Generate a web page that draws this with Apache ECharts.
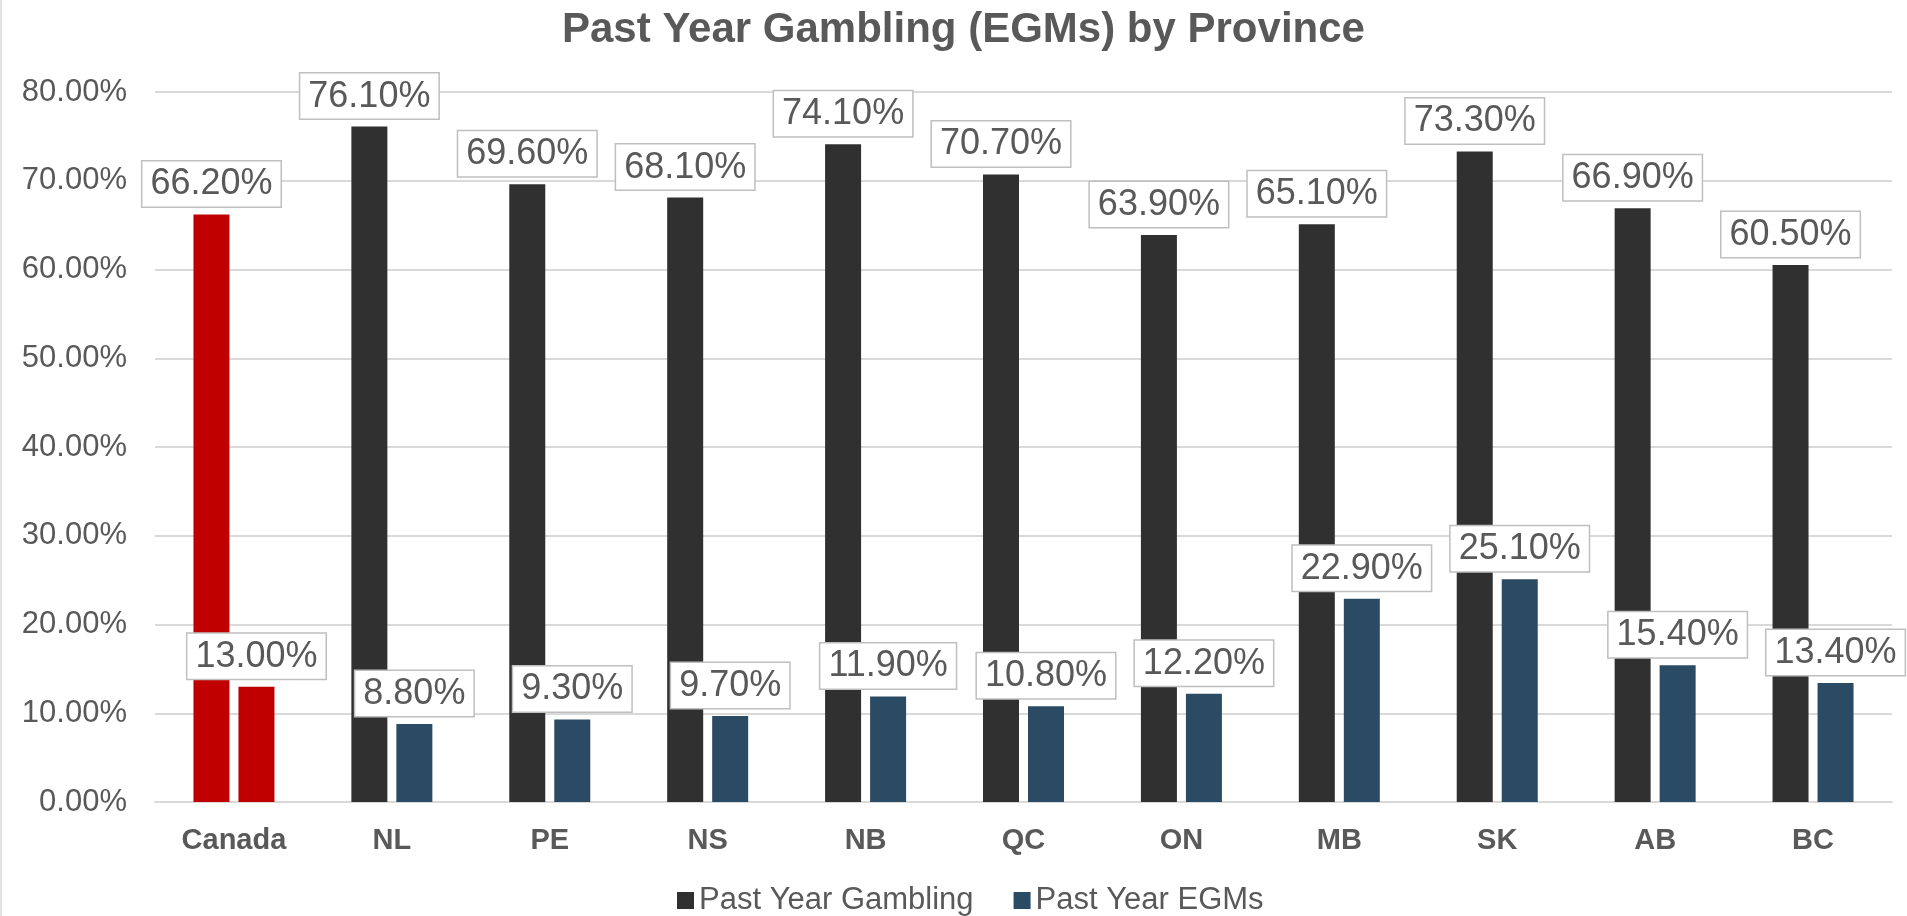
<!DOCTYPE html>
<html>
<head>
<meta charset="UTF-8">
<title>Past Year Gambling (EGMs) by Province</title>
<script src="https://cdn.jsdelivr.net/npm/echarts@6/dist/echarts.min.js"></script>
<style>
  html, body { margin: 0; padding: 0; background: #fff; }
  #chart { width: 1907px; height: 916px; box-sizing: border-box; border-left: 2px solid #e3e3e3; }
</style>
</head>
<body>
<div id="chart"></div>
<script>
// values, in percent
const provinces = ['Canada', 'NL', 'PE', 'NS', 'NB', 'QC', 'ON', 'MB', 'SK', 'AB', 'BC'];
const gambling = [66.2, 76.1, 69.6, 68.1, 74.1, 70.7, 63.9, 65.1, 73.3, 66.9, 60.5];
const egms = [13.0, 8.8, 9.3, 9.7, 11.9, 10.8, 12.2, 22.9, 25.1, 15.4, 13.4];
const seriesNames = ['Past Year Gambling', 'Past Year EGMs'];

const textGray = '#595959';
const canadaRed = '#c00000';
const font = 'Liberation Sans, Arial, sans-serif';

// Canada gets the red highlight in both series
function withHighlight(values) {
  return values.map((v, i) => (provinces[i] === 'Canada' ? { value: v, itemStyle: { color: canadaRed } } : v));
}

const boxLabel = {
  show: true,
  position: 'top',
  distance: 8,
  formatter: (p) => p.value.toFixed(2) + '%',
  fontFamily: font,
  fontSize: 36,
  color: textGray,
  backgroundColor: '#fff',
  borderColor: '#bfbfbf',
  borderWidth: 1.5,
  padding: [5, 8, 4, 8]
};

const chart = echarts.init(document.getElementById('chart'));
chart.setOption({
  animation: false,
  title: {
    text: 'Past Year Gambling (EGMs) by Province',
    left: 555,
    top: 4,
    textStyle: { fontFamily: font, fontSize: 42, fontWeight: 'bold', color: textGray }
  },
  legend: {
    data: seriesNames,
    left: 670,
    top: 880,
    itemWidth: 17,
    itemHeight: 17,
    itemGap: 40,
    icon: 'rect',
    textStyle: { fontFamily: font, fontSize: 31, color: textGray }
  },
  grid: { left: 153, right: 15, top: 92, bottom: 114, containLabel: false },
  xAxis: {
    type: 'category',
    data: provinces,
    axisLine: { lineStyle: { color: '#d9d9d9', width: 2 } },
    axisTick: { show: false },
    axisLabel: {
      margin: 24,
      fontFamily: font,
      fontSize: 29,
      fontWeight: 'bold',
      color: textGray
    }
  },
  yAxis: {
    type: 'value',
    min: 0,
    max: 80,
    interval: 10,
    axisLine: { show: false },
    axisTick: { show: false },
    splitLine: { lineStyle: { color: '#d9d9d9', width: 2 } },
    axisLabel: {
      margin: 28,
      formatter: (v) => v.toFixed(2) + '%',
      fontFamily: font,
      fontSize: 31,
      color: textGray
    }
  },
  series: [
    {
      name: seriesNames[0],
      type: 'bar',
      data: withHighlight(gambling),
      barWidth: 36,
      barGap: '25%',
      itemStyle: { color: '#303030' },
      label: boxLabel
    },
    {
      name: seriesNames[1],
      type: 'bar',
      data: withHighlight(egms),
      barWidth: 36,
      barGap: '25%',
      itemStyle: { color: '#2b4a63' },
      label: boxLabel
    }
  ]
});
</script>
</body>
</html>
